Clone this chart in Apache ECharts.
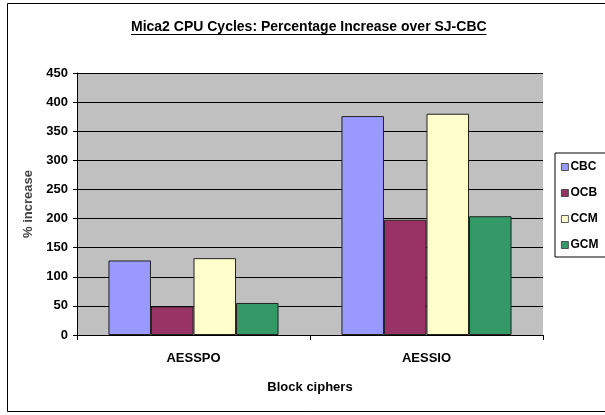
<!DOCTYPE html>
<html><head><meta charset="utf-8">
<script src="https://cdn.jsdelivr.net/npm/echarts@6/dist/echarts.min.js"></script>
<style>html,body{margin:0;padding:0;background:#fff;}#c{width:605px;height:415px;}</style>
</head><body><div id="c"></div>
<script>
const categories = ['AESSPO', 'AESSIO'];
const seriesNames = ['CBC', 'OCB', 'CCM', 'GCM'];
const cbc = [128, 376];
const ocb = [49, 198];
const ccm = [132, 380];
const gcm = [55, 204];
const colors = ['#9999FF', '#993366', '#FFFFCC', '#339966'];
const titleText = 'Mica2 CPU Cycles: Percentage Increase over SJ-CBC';
const FONT = "'Liberation Sans', Arial, sans-serif";

const values = [cbc, ocb, ccm, gcm];

// measure title width for its underline
const mctx = document.createElement('canvas').getContext('2d');
mctx.font = "bold 14px 'Liberation Sans', Arial, sans-serif";
const titleW = mctx.measureText(titleText).width;
const titleCenter = 309;
const titleLeft = Math.round(titleCenter - titleW / 2);

const chart = echarts.init(document.getElementById('c'));
chart.setOption({
  animation: false,
  backgroundColor: '#fff',
  graphic: [
    {type: 'rect', shape: {x: 7.5, y: 3.5, width: 620, height: 408}, style: {fill: 'none', stroke: '#000', lineWidth: 1}, z: -10},
    {type: 'rect', shape: {x: 77.5, y: 73.5, width: 465, height: 262}, style: {fill: 'none', stroke: '#808080', lineWidth: 1}, z: -5},
    {type: 'line', shape: {x1: titleLeft, y1: 34.5, x2: titleLeft + titleW, y2: 34.5}, style: {stroke: '#000', lineWidth: 1}}
  ],
  title: {
    text: titleText,
    left: titleLeft, top: 20, padding: 0,
    textStyle: {fontFamily: FONT, fontWeight: 'bold', fontSize: 14, color: '#000'}
  },
  legend: {
    orient: 'vertical', left: 555, top: 153,
    data: seriesNames,
    itemWidth: 7, itemHeight: 7, itemGap: 12,
    padding: [7, 20, 5, 6],
    borderColor: '#000', borderWidth: 1, backgroundColor: '#fff',
    icon: 'rect',
    textStyle: {fontFamily: FONT, fontWeight: 'bold', fontSize: 12, lineHeight: 14, color: '#000', padding: [0, 0, 0, -3]},
    itemStyle: {borderColor: '#333', borderWidth: 0.8}
  },
  grid: {left: 77, right: 62, top: 73, bottom: 80, show: true, backgroundColor: '#C0C0C0', borderWidth: 0},
  xAxis: {
    type: 'category', data: categories,
    name: 'Block ciphers', nameLocation: 'middle', nameGap: 46,
    nameTextStyle: {fontFamily: FONT, fontWeight: 'bold', fontSize: 13, color: '#000'},
    axisLine: {lineStyle: {color: '#000', width: 1}},
    axisTick: {show: true, length: 5, lineStyle: {color: '#000'}},
    axisLabel: {fontFamily: FONT, fontWeight: 'bold', fontSize: 13, color: '#000', margin: 17}
  },
  yAxis: {
    type: 'value', min: 0, max: 450, interval: 50,
    name: '% increase', nameLocation: 'middle', nameGap: 40,
    nameTextStyle: {fontFamily: FONT, fontWeight: 'bold', fontSize: 13, color: '#444'},
    axisLine: {show: true, lineStyle: {color: '#000', width: 1}},
    axisTick: {show: true, length: 4, inside: false, lineStyle: {color: '#000'}},
    axisLabel: {fontFamily: FONT, fontWeight: 'bold', fontSize: 13, color: '#000', margin: 9},
    splitLine: {lineStyle: {color: '#000', width: 1}}
  },
  series: seriesNames.map((n, i) => ({
    name: n, type: 'bar', data: values[i],
    barGap: '0%', barCategoryGap: '27%',
    itemStyle: {color: colors[i], borderColor: '#222', borderWidth: 1}
  }))
});
</script>
</body></html>
